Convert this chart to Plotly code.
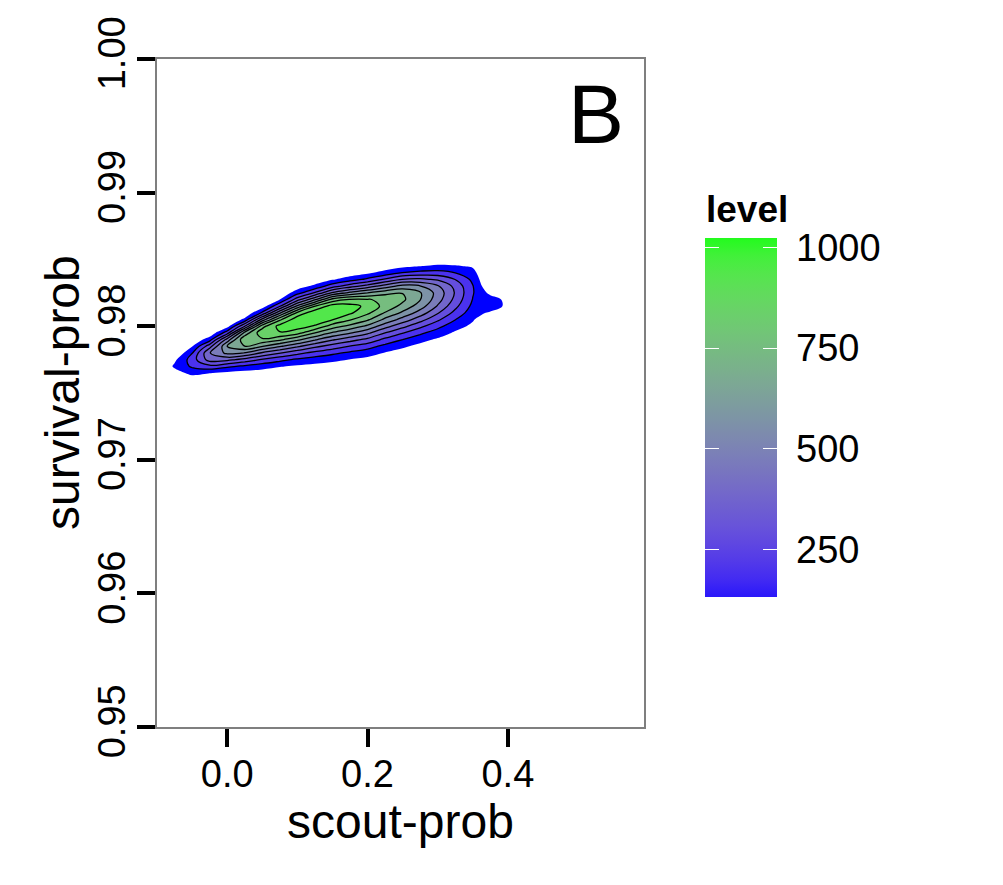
import numpy as np
import plotly.graph_objects as go

# ---------------- data ----------------
# grid of the 2-D density estimate: scout-prob (x) and survival-prob (y)
X_GRID = [-0.100, -0.075, -0.050, -0.025, 0.000, 0.025, 0.050, 0.075, 0.100, 0.125, 0.150,
          0.175, 0.200, 0.225, 0.250, 0.275, 0.300, 0.325, 0.350, 0.375, 0.400, 0.425]
Y_GRID = [0.9755, 0.9760, 0.9765, 0.9770, 0.9775, 0.9780, 0.9785, 0.9790, 0.9795, 0.9800, 0.9805,
          0.9810, 0.9815, 0.9820, 0.9825, 0.9830, 0.9835, 0.9840, 0.9845, 0.9850, 0.9855]

# density level of each grid column (bottom -> top, one value per Y_GRID row)
d_xm100 = [0, 0, 0, 0, 0, 0, 0, 0, 0, 0, 0, 0, 0, 0, 0, 0, 0, 0, 0, 0, 0]
d_xm075 = [0, 20, 90, 150, 110, 30, 0, 0, 0, 0, 0, 0, 0, 0, 0, 0, 0, 0, 0, 0, 0]
d_xm050 = [26, 76, 160, 247, 279, 225, 126, 49, 13, 0, 0, 0, 0, 0, 0, 0, 0, 0, 0, 0, 0]
d_xm025 = [10, 44, 137, 302, 473, 523, 386, 184, 56, 11, 0, 0, 0, 0, 0, 0, 0, 0, 0, 0, 0]
d_x000 = [10, 37, 110, 253, 459, 652, 726, 567, 285, 92, 19, 0, 0, 0, 0, 0, 0, 0, 0, 0, 0]
d_x025 = [11, 35, 93, 210, 396, 624, 823, 909, 762, 427, 160, 40, 7, 0, 0, 0, 0, 0, 0, 0, 0]
d_x050 = [13, 35, 83, 175, 320, 516, 731, 909, 993, 885, 558, 248, 78, 17, 0, 0, 0, 0, 0, 0, 0]
d_x075 = [11, 29, 68, 141, 262, 435, 642, 847, 1015, 1060, 904, 610, 321, 131, 42, 10, 0, 0, 0, 0, 0]
d_x100 = [10, 25, 57, 116, 215, 360, 547, 751, 960, 1075, 1085, 950, 651, 385, 189, 77, 26, 7, 0, 0, 0]
d_x125 = [10, 24, 52, 101, 181, 300, 457, 641, 827, 1010, 1095, 1090, 920, 606, 341, 157, 60, 19, 5, 0, 0]
d_x150 = [11, 24, 48, 90, 157, 254, 385, 542, 714, 876, 1030, 1090, 1070, 860, 540, 285, 122, 43, 12, 0, 0]
d_x175 = [8, 19, 38, 72, 128, 212, 327, 471, 634, 797, 934, 1040, 1060, 930, 651, 384, 186, 74, 24, 6, 0]
d_x200 = [7, 15, 30, 58, 104, 175, 274, 402, 550, 705, 844, 945, 1000, 930, 726, 470, 253, 113, 41, 13, 0]
d_x225 = [4, 10, 21, 40, 73, 126, 202, 304, 429, 568, 704, 817, 889, 905, 792, 573, 342, 169, 69, 23, 5]
d_x250 = [3, 7, 14, 28, 52, 91, 150, 231, 336, 459, 588, 706, 797, 845, 822, 661, 435, 234, 103, 37, 12]
d_x275 = [0, 3, 8, 16, 32, 60, 103, 166, 252, 356, 471, 583, 675, 731, 737, 633, 449, 263, 128, 51, 17]
d_x300 = [0, 2, 5, 11, 22, 41, 72, 118, 182, 261, 350, 440, 518, 572, 590, 540, 416, 270, 148, 68, 26]
d_x325 = [0, 0, 3, 6, 13, 25, 45, 75, 117, 171, 234, 299, 357, 400, 420, 400, 328, 231, 140, 73, 32]
d_x350 = [0, 0, 0, 7, 13, 23, 36, 55, 80, 110, 143, 176, 205, 227, 239, 236, 209, 167, 119, 76, 43]
d_x375 = [0, 0, 0, 0, 0, 0, 0, 3, 6, 12, 40, 116, 191, 183, 104, 36, 5, 0, 0, 0, 0]
d_x400 = [0, 0, 0, 0, 0, 0, 0, 0, 0, 5, 20, 60, 105, 100, 50, 10, 0, 0, 0, 0, 0]
d_x425 = [0, 0, 0, 0, 0, 0, 0, 0, 0, 0, 0, 0, 0, 0, 0, 0, 0, 0, 0, 0, 0]

LEVEL_START = 132     # lowest contour level
LEVEL_STEP = 99       # spacing of contour levels
LEVEL_END = 1023      # highest contour level (top of the colour bar)
LEVEL_TICKS = [250, 500, 750, 1000]
X_TICKS = [0.0, 0.2, 0.4]
Y_TICKS = [0.95, 0.96, 0.97, 0.98, 0.99, 1.00]
X_RANGE = [-0.1, 0.594]
Y_RANGE = [0.95, 1.00]
PANEL_LABEL = "B"
X_TITLE = "scout-prob"
Y_TITLE = "survival-prob"
FILL_TITLE = "level"

columns = [d_xm100, d_xm075, d_xm050, d_xm025, d_x000, d_x025, d_x050, d_x075, d_x100,
           d_x125, d_x150, d_x175, d_x200, d_x225, d_x250, d_x275, d_x300, d_x325,
           d_x350, d_x375, d_x400, d_x425]
Z = np.array(columns, dtype=float).T   # rows = y, cols = x

# ---------------- colours: blue -> green gradient in CIE Lab ----------------
WHITE = (0.95047, 1.0, 1.08883)


def _to_lin(c):
    c = c / 255.0
    return c / 12.92 if c <= 0.04045 else ((c + 0.055) / 1.055) ** 2.4


def _to_srgb(c):
    c = min(max(c, 0.0), 1.0)
    v = 12.92 * c if c <= 0.0031308 else 1.055 * c ** (1 / 2.4) - 0.055
    return int(round(v * 255))


def rgb_to_lab(rgb):
    r, g, b = [_to_lin(v) for v in rgb]
    X = 0.4124564 * r + 0.3575761 * g + 0.1804375 * b
    Y = 0.2126729 * r + 0.7151522 * g + 0.0721750 * b
    Zc = 0.0193339 * r + 0.1191920 * g + 0.9503041 * b

    def f(t):
        return t ** (1 / 3) if t > 216 / 24389 else (24389 / 27 * t + 16) / 116
    fx, fy, fz = f(X / WHITE[0]), f(Y / WHITE[1]), f(Zc / WHITE[2])
    return (116 * fy - 16, 500 * (fx - fy), 200 * (fy - fz))


def lab_to_rgb(lab):
    L, a, b = lab
    fy = (L + 16) / 116
    fx = fy + a / 500
    fz = fy - b / 200

    def finv(t):
        return t ** 3 if t ** 3 > 216 / 24389 else (116 * t - 16) / (24389 / 27)
    X, Y, Zc = finv(fx) * WHITE[0], finv(fy) * WHITE[1], finv(fz) * WHITE[2]
    r = 3.2404542 * X - 1.5371385 * Y - 0.4985314 * Zc
    g = -0.9692660 * X + 1.8760108 * Y + 0.0415560 * Zc
    bb = 0.0556434 * X - 0.2040259 * Y + 1.0572252 * Zc
    return "rgb(%d,%d,%d)" % (_to_srgb(r), _to_srgb(g), _to_srgb(bb))


LAB_LOW = rgb_to_lab((0, 0, 255))
LAB_HIGH = rgb_to_lab((0, 255, 0))


def grad(t):
    return lab_to_rgb(tuple(lo + (hi - lo) * t for lo, hi in zip(LAB_LOW, LAB_HIGH)))


n_levels = int(round((LEVEL_END - LEVEL_START) / LEVEL_STEP)) + 1
band_colors = [grad(0.889 * j / (n_levels - 1)) for j in range(n_levels)]
fill_scale = [[0.0, "rgba(255,255,255,0)"]] + \
    [[(j + 1) / n_levels, band_colors[j]] for j in range(n_levels)]
bar_scale = [[s / 20, grad(0.03 + 0.95 * s / 20)] for s in range(21)]
clear_scale = [[0, "rgba(0,0,0,0)"], [1, "rgba(0,0,0,0)"]]

# ---------------- figure ----------------
W, H = 1003, 885
ML, MR, MT, MB = 157, 359, 59, 158
PW, PH = W - ML - MR, H - MT - MB
FONT = "Liberation Sans, Arial, sans-serif"


def px_x(p):
    return (p - ML) / PW


def px_y(p):
    return (MT + PH - p) / PH


fig = go.Figure()

fig.add_trace(go.Contour(
    x=X_GRID, y=Y_GRID, z=Z,
    contours=dict(start=LEVEL_START, end=LEVEL_END, size=LEVEL_STEP,
                  coloring="fill", showlines=False),
    colorscale=fill_scale, showscale=False, showlegend=False,
    line=dict(width=0, smoothing=1.0), hoverinfo="skip"))

fig.add_trace(go.Contour(
    x=X_GRID, y=Y_GRID, z=Z,
    contours=dict(start=LEVEL_START + LEVEL_STEP, end=LEVEL_END, size=LEVEL_STEP,
                  coloring="none", showlines=True),
    line=dict(color="black", width=1.3, smoothing=1.0),
    showscale=False, showlegend=False, hoverinfo="skip"))

bar_x = px_x(705)
bar_y = px_y(417.5)
cb_common = dict(x=bar_x, xanchor="left", y=bar_y, yanchor="middle",
                 len=359, lenmode="pixels", thicknessmode="pixels",
                 xpad=0, ypad=0, outlinewidth=0, tickvals=LEVEL_TICKS,
                 title=dict(text=""))

# main colour bar with labels
fig.add_trace(go.Scatter(
    x=[None], y=[None], mode="markers", showlegend=False, hoverinfo="skip",
    marker=dict(color=[LEVEL_START, LEVEL_END], cmin=LEVEL_START, cmax=LEVEL_END,
                colorscale=bar_scale, showscale=True,
                colorbar=dict(thickness=72, ticks="outside", ticklen=12, tickwidth=1,
                              tickcolor="rgba(0,0,0,0)",
                              tickfont=dict(family=FONT, size=38, color="black"),
                              **cb_common))))

# white tick marks on the right edge of the bar
fig.add_trace(go.Scatter(
    x=[None], y=[None], mode="markers", showlegend=False, hoverinfo="skip",
    marker=dict(color=[LEVEL_START, LEVEL_END], cmin=LEVEL_START, cmax=LEVEL_END,
                colorscale=clear_scale, showscale=True,
                colorbar=dict(thickness=72, ticks="inside", ticklen=14, tickwidth=1.2,
                              tickcolor="white", showticklabels=False, **cb_common))))

# white tick marks on the left edge of the bar
fig.add_trace(go.Scatter(
    x=[None], y=[None], mode="markers", showlegend=False, hoverinfo="skip",
    marker=dict(color=[LEVEL_START, LEVEL_END], cmin=LEVEL_START, cmax=LEVEL_END,
                colorscale=clear_scale, showscale=True,
                colorbar=dict(thickness=0, ticks="outside", ticklen=14, tickwidth=1.2,
                              tickcolor="white", showticklabels=False, **cb_common))))

axis_common = dict(showgrid=False, zeroline=False, showline=True, linecolor="#7f7f7f",
                   linewidth=2, mirror=True, ticks="outside", ticklen=18, tickwidth=3.5,
                   tickcolor="black", tickfont=dict(family=FONT, size=38, color="black"))

fig.update_layout(
    width=W, height=H,
    margin=dict(l=ML, r=MR, t=MT, b=MB, pad=0),
    paper_bgcolor="white", plot_bgcolor="white",
    showlegend=False,
    font=dict(family=FONT, color="black"),
    xaxis=dict(range=X_RANGE, tickvals=X_TICKS, tickformat=".1f", ticklabelstandoff=-6,
               title=dict(text=X_TITLE, font=dict(family=FONT, size=48), standoff=9),
               **axis_common),
    yaxis=dict(range=Y_RANGE, tickvals=Y_TICKS, tickformat=".2f", tickangle=-90,
               ticklabelstandoff=-3, **axis_common),
    annotations=[
        dict(text=PANEL_LABEL, xref="paper", yref="paper",
             x=px_x(596), y=px_y(114), xanchor="center", yanchor="middle", showarrow=False,
             font=dict(family=FONT, size=84, color="black")),
        dict(text=Y_TITLE, xref="paper", yref="paper", textangle=-90,
             x=px_x(62), y=px_y(393), xanchor="center", yanchor="middle", showarrow=False,
             font=dict(family=FONT, size=48, color="black")),
        dict(text="<b>%s</b>" % FILL_TITLE, xref="paper", yref="paper",
             x=px_x(704), y=px_y(209), xanchor="left", yanchor="middle", showarrow=False,
             font=dict(family=FONT, size=37, color="black")),
    ],
)

fig.write_html("out.html")
